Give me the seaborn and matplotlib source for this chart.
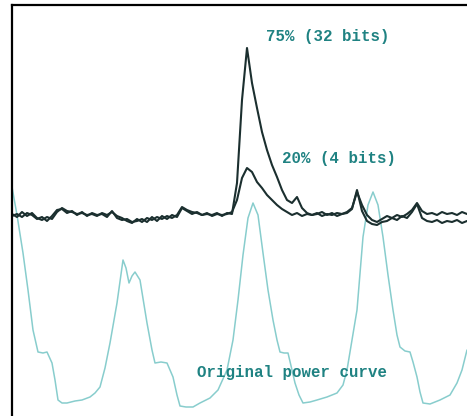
import numpy as np
import pandas as pd
import matplotlib
matplotlib.use("Agg")
import matplotlib.pyplot as plt
import seaborn as sns

# Sample positions of the two recorded traces (common time axis)
t = np.arange(0, 456, 5)

# Trace recorded with 20% (4 bits) of the key
trace_20 = [197, 194, 199, 195, 198, 193, 191, 194, 192, 199,
            203, 200, 199, 197, 198, 196, 197, 195, 198, 196,
            199, 195, 193, 190, 188, 192, 189, 193, 191, 194,
            192, 195, 193, 196, 204, 201, 199, 198, 196, 198,
            195, 197, 196, 197, 199, 211, 233, 243, 239, 229,
            223, 216, 211, 206, 202, 199, 196, 198, 195, 197,
            196, 198, 195, 197, 196, 198, 197, 199, 203, 219,
            206, 196, 191, 189, 192, 195, 193, 196, 194, 197,
            201, 208, 200, 197, 198, 196, 199, 197, 198, 196,
            199, 197]

# Trace recorded with 75% (32 bits) of the key
trace_75 = [195, 197, 194, 198, 196, 192, 194, 190, 195, 201,
            202, 198, 200, 196, 199, 195, 198, 196, 197, 194,
            200, 193, 191, 192, 189, 190, 192, 189, 194, 190,
            195, 192, 196, 194, 203, 200, 197, 199, 196, 197,
            196, 198, 195, 198, 197, 228, 311, 363, 328, 303,
            279, 261, 246, 234, 221, 211, 208, 214, 203, 198,
            196, 197, 199, 196, 198, 195, 197, 198, 202, 221,
            200, 190, 187, 186, 189, 190, 193, 191, 195, 193,
            199, 207, 193, 190, 189, 191, 188, 190, 189, 191,
            188, 190]

# Original power curve
t_orig = [0, 5, 11, 16, 21, 26, 31, 35, 40, 43, 46, 50, 55, 63, 70, 78, 83, 88,
          93, 98, 105, 111, 114, 117, 120, 123, 128, 135, 140, 143, 149, 155,
          161, 165, 168, 174, 181, 188, 198, 206, 215, 221, 226, 231, 236, 241,
          246, 251, 256, 261, 265, 268, 272, 276, 280, 283, 287, 291, 298, 305,
          315, 325, 331, 335, 340, 345, 351, 356, 361, 366, 371, 376, 381, 385,
          388, 393, 398, 401, 405, 408, 411, 418, 428, 438, 445, 450, 455]
power_orig = [224, 196, 158, 121, 81, 59, 58, 59, 48, 31, 11, 8, 8, 10, 11, 14,
              18, 24, 43, 68, 108, 151, 143, 128, 135, 139, 131, 88, 61, 48, 49,
              48, 34, 16, 5, 4, 4, 8, 13, 21, 41, 71, 111, 156, 193, 208, 196,
              158, 121, 91, 71, 59, 58, 58, 41, 28, 16, 8, 9, 11, 14, 18, 26, 41,
              71, 101, 174, 206, 219, 206, 174, 136, 101, 76, 64, 60, 59, 49, 34,
              19, 8, 7, 11, 16, 28, 41, 61]

df = pd.DataFrame({"t": t, "p20": trace_20, "p75": trace_75})
orig = pd.DataFrame({"t": t_orig, "p": power_orig})

sns.set_style("white")
fig = plt.figure(figsize=(4.67, 4.16), dpi=100)
ax = fig.add_axes([12 / 467, 0, 455 / 467, 411 / 416])

sns.lineplot(data=orig, x="t", y="p", color="#88cdcd", linewidth=1.1, ax=ax)
sns.lineplot(data=df, x="t", y="p20", color="#1b2f2f", linewidth=1.5, ax=ax)
sns.lineplot(data=df, x="t", y="p75", color="#1b2f2f", linewidth=1.5, ax=ax)

ax.set_xlim(0, 455)
ax.set_ylim(-5, 406)
ax.set_xticks([])
ax.set_yticks([])
ax.set_xlabel("")
ax.set_ylabel("")
for side in ["right", "bottom"]:
    ax.spines[side].set_visible(False)
for side in ["top", "left"]:
    ax.spines[side].set_color("black")
    ax.spines[side].set_linewidth(1.6)

txt = dict(family="Liberation Mono", fontsize=11.3, fontweight="bold",
           color="#1f8282", ha="center", va="center")
ax.text(316, 374, "75% (32 bits)", **txt)
ax.text(327, 253, "20% (4 bits)", **txt)
ax.text(280, 38, "Original power curve", **txt)

fig.savefig("out.png", dpi=100)
